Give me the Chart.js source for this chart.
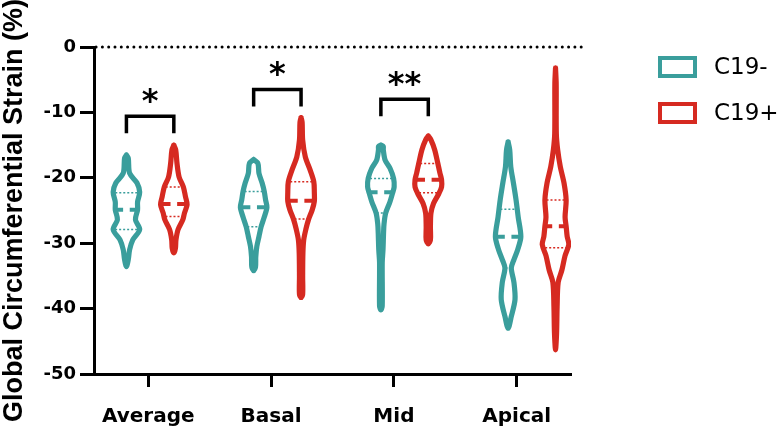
<!DOCTYPE html>
<html>
<head>
<meta charset="utf-8">
<script src="https://cdn.jsdelivr.net/npm/chart.js@4.4.1/dist/chart.umd.min.js"></script>
<style>
  html, body { margin: 0; padding: 0; background: #fff; }
</style>
</head>
<body>
<canvas id="strainChart" width="784" height="428"></canvas>
<script>
// ---- data ----
const categories = ['Average', 'Basal', 'Mid', 'Apical'];
const groups = ['C19-', 'C19+'];
const groupColors = ['#3a9e9c', '#d62a21'];
const yTicks = [0, -10, -20, -30, -40, -50];

// violin outlines: [strain %, relative density], top to bottom
const avgNeg = [[-16.5, 0], [-17.0, 0.14], [-19.3, 0.24], [-20.8, 0.8], [-22.2, 1.0], [-23.7, 0.84], [-24.9, 0.84],
  [-26.4, 0.68], [-27.9, 1.0], [-29.5, 0.48], [-31.0, 0.24], [-32.5, 0.14], [-33.6, 0]];
const avgPos = [[-15.0, 0], [-15.7, 0.14], [-17.8, 0.24], [-19.9, 0.4], [-21.4, 0.72], [-22.9, 0.88], [-24.1, 1.0],
  [-25.4, 0.8], [-26.4, 0.68], [-27.9, 0.32], [-29.5, 0.16], [-30.8, 0.12], [-31.5, 0]];
const basalNeg = [[-17.2, 0], [-17.8, 0.32], [-19.3, 0.4], [-20.8, 0.64], [-22.1, 0.8], [-23.4, 0.9], [-24.5, 1.0],
  [-26.0, 0.8], [-27.5, 0.56], [-29.0, 0.4], [-30.5, 0.24], [-32.1, 0.16], [-33.6, 0.14], [-34.2, 0]];
const basalPos = [[-10.8, 0], [-11.5, 0.08], [-14.2, 0.12], [-16.8, 0.32], [-18.8, 0.68], [-20.6, 0.96], [-22.2, 1.0],
  [-23.6, 1.0], [-24.9, 0.84], [-26.4, 0.56], [-27.9, 0.36], [-29.5, 0.2], [-31.5, 0.14], [-35.0, 0.12],
  [-37.8, 0.12], [-38.3, 0]];
const midNeg = [[-15.0, 0], [-15.2, 0.18], [-15.7, 0.18], [-17.3, 0.32], [-18.5, 0.68], [-20.1, 0.96], [-21.4, 1.0],
  [-22.2, 0.9], [-23.7, 0.68], [-25.4, 0.36], [-27.0, 0.24], [-28.5, 0.2], [-31.0, 0.16], [-33.0, 0.1],
  [-39.6, 0.1], [-40.2, 0]];
const midPos = [[-13.6, 0], [-14.2, 0.2], [-15.7, 0.48], [-17.8, 0.72], [-19.3, 0.88], [-20.3, 1.0], [-21.4, 1.0],
  [-22.4, 0.8], [-23.9, 0.4], [-25.4, 0.2], [-27.5, 0.16], [-29.5, 0.16], [-30.1, 0]];
const apicalNeg = [[-14.5, 0], [-15.7, 0.12], [-18.3, 0.2], [-20.8, 0.4], [-23.4, 0.6], [-26.0, 0.76], [-29.0, 0.96],
  [-31.0, 0.72], [-32.5, 0.44], [-33.8, 0.24], [-36.0, 0.44], [-38.6, 0.52], [-41.2, 0.24], [-43.0, 0]];
const apicalPos = [[-3.2, 0], [-5.6, 0.05], [-13.2, 0.06], [-15.7, 0.16], [-18.3, 0.36], [-20.8, 0.64], [-23.4, 0.8],
  [-26.0, 0.72], [-27.4, 0.8], [-29.0, 0.88], [-30.2, 1.0], [-31.9, 0.72], [-34.1, 0.48], [-36.0, 0.2],
  [-39.7, 0.12], [-43.7, 0.08], [-46.3, 0]];

const negProfiles = [avgNeg, basalNeg, midNeg, apicalNeg];
const posProfiles = [avgPos, basalPos, midPos, apicalPos];

const negMedians = [-24.9, -24.5, -22.2, -29.0];
const posMedians = [-24.0, -23.5, -20.3, -27.4];
const negQuartiles = [[-22.3, -27.9], [-22.1, -27.5], [-20.1, -25.4], [-24.8, -33.8]];
const posQuartiles = [[-21.4, -25.9], [-20.6, -26.3], [-17.8, -22.3], [-23.4, -30.7]];

// significance brackets (first three categories)
const bracketLevels = [-10.6, -6.5, -8.0];
const bracketStars = ['*', '*', '**'];

// ---- layout helpers ----
const HALF_WIDTH = 0.108;   // x units for density 1
const PAIR_OFFSET = 0.193;
const LEG = 2.6;            // bracket leg length, % units
const groupCenter = i => 1.015 + i * 1.036;
const violinX = (i, g) => groupCenter(i) + (g === 0 ? -PAIR_OFFSET : PAIR_OFFSET);

function widthAt(profile, v) {
  for (let k = 0; k < profile.length - 1; k++) {
    const [v0, d0] = profile[k], [v1, d1] = profile[k + 1];
    if (v <= v0 && v >= v1) return d0 + (d1 - d0) * (v - v0) / (v1 - v0);
  }
  return 0;
}

function outline(profile, cx) {
  const right = profile.map(([v, d]) => ({ x: cx + d * HALF_WIDTH, y: v }));
  const left = profile.slice(0, -1).reverse().map(([v, d]) => ({ x: cx - d * HALF_WIDTH, y: v }));
  return right.concat(left);
}

const base = { showLine: true, pointRadius: 0, pointHoverRadius: 0, fill: false };
const datasets = [];

// dotted zero line
datasets.push({ ...base, data: [{ x: 0.575, y: 0 }, { x: 4.537, y: 0 }], borderColor: '#000',
  borderWidth: 3, borderDash: [0, 6.3], borderCapStyle: 'round', clip: false });

[negProfiles, posProfiles].forEach((profiles, g) => {
  const color = groupColors[g];
  const medians = g === 0 ? negMedians : posMedians;
  const quartiles = g === 0 ? negQuartiles : posQuartiles;
  profiles.forEach((profile, i) => {
    const cx = violinX(i, g);
    datasets.push({ ...base, data: outline(profile, cx), borderColor: color, borderWidth: 5.2,
      tension: 0.3, borderJoinStyle: 'round', borderCapStyle: 'round' });

    const mw = widthAt(profile, medians[i]) * HALF_WIDTH;
    const gap = 0.027;
    datasets.push({ ...base, data: [
      { x: cx - mw, y: medians[i] }, { x: cx - gap, y: medians[i] }, { x: cx, y: null },
      { x: cx + gap, y: medians[i] }, { x: cx + mw, y: medians[i] }],
      borderColor: color, borderWidth: 4, spanGaps: false });

    const pts = [];
    quartiles[i].forEach((q, k) => {
      const qw = widthAt(profile, q) * HALF_WIDTH * 0.85;
      if (k > 0) pts.push({ x: cx, y: null });
      pts.push({ x: cx - qw, y: q }, { x: cx + qw, y: q });
    });
    datasets.push({ ...base, data: pts, borderColor: color, borderWidth: 1.5,
      borderDash: [2, 2], spanGaps: false });
  });
});

bracketLevels.forEach((lvl, i) => {
  const x0 = violinX(i, 0), x1 = violinX(i, 1);
  datasets.push({ ...base, data: [{ x: x0, y: lvl - LEG }, { x: x0, y: lvl }, { x: x1, y: lvl }, { x: x1, y: lvl - LEG }],
    borderColor: '#000', borderWidth: 3.5, borderJoinStyle: 'miter', borderCapStyle: 'butt' });
});

// stars, legend and the small axis overhang
const annotations = {
  id: 'annotations',
  afterDraw(chart) {
    const { ctx, scales: { x, y }, chartArea } = chart;
    ctx.save();

    // x axis runs a little past the y axis on the left
    ctx.strokeStyle = '#000';
    ctx.lineWidth = 3;
    ctx.beginPath();
    ctx.moveTo(chartArea.left - 12, Math.round(chartArea.bottom) + 0.5);
    ctx.lineTo(chartArea.left, Math.round(chartArea.bottom) + 0.5);
    ctx.stroke();

    ctx.fillStyle = '#000';
    ctx.font = 'bold 32px "DejaVu Sans"';
    ctx.textAlign = 'center';
    ctx.textBaseline = 'alphabetic';
    bracketLevels.forEach((lvl, i) => {
      const cx = (x.getPixelForValue(violinX(i, 0)) + x.getPixelForValue(violinX(i, 1))) / 2;
      const cy = y.getPixelForValue(lvl) - 21;
      const m = ctx.measureText(bracketStars[i]);
      const mid = (m.actualBoundingBoxAscent - m.actualBoundingBoxDescent) / 2;
      ctx.fillText(bracketStars[i], cx, cy + mid);
    });

    // legend
    ctx.font = '23px "DejaVu Sans"';
    ctx.textAlign = 'left';
    ctx.textBaseline = 'middle';
    groups.forEach((name, g) => {
      const top = 58 + g * 46;
      ctx.strokeStyle = groupColors[g];
      ctx.lineWidth = 4;
      ctx.strokeRect(660, top, 35, 18);
      ctx.fillStyle = '#000';
      ctx.fillText(name, 714, top + 10);
    });
    ctx.restore();
  }
};

new Chart(document.getElementById('strainChart'), {
  type: 'scatter',
  data: { datasets },
  options: {
    responsive: false,
    animation: false,
    devicePixelRatio: 1,
    layout: { padding: { top: 47, right: 213, bottom: 0, left: 0 } },
    plugins: { legend: { display: false }, tooltip: { enabled: false } },
    scales: {
      x: {
        type: 'linear',
        min: 0.558,
        max: 4.442,
        afterBuildTicks: s => { s.ticks = categories.map((c, i) => ({ value: i + 1 })); },
        afterFit: s => { s.height = 54; },
        ticks: {
          callback: v => categories[Math.round(v) - 1],
          font: { family: 'DejaVu Sans', weight: 'bold', size: 20 },
          color: '#000',
          padding: 18,
          autoSkip: false,
          maxRotation: 0
        },
        grid: { drawOnChartArea: false, color: '#000', tickLength: 13, tickWidth: 3 },
        border: { color: '#000', width: 3 }
      },
      y: {
        min: -50,
        max: 0,
        afterBuildTicks: s => { s.ticks = yTicks.map(v => ({ value: v })); },
        afterFit: s => { s.width = 94; },
        ticks: {
          font: { family: 'DejaVu Sans', weight: 'bold', size: 18 },
          color: '#000',
          padding: 4
        },
        grid: { drawOnChartArea: false, color: '#000', tickLength: 14, tickWidth: 3 },
        border: { color: '#000', width: 3 },
        title: {
          display: true,
          text: 'Global Circumferential Strain (%)',
          font: { family: 'Liberation Sans', weight: 'bold', size: 27, lineHeight: 1.1 },
          color: '#000',
          padding: 0
        }
      }
    }
  },
  plugins: [annotations]
});
</script>
</body>
</html>
